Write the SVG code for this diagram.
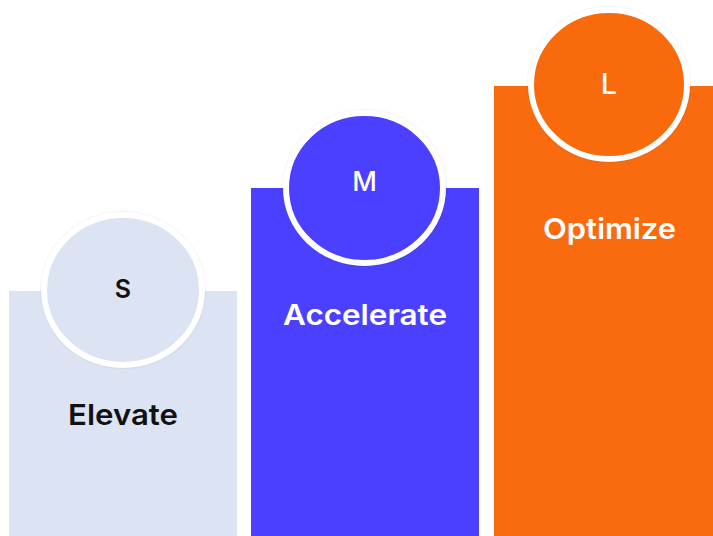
<svg xmlns="http://www.w3.org/2000/svg" width="713" height="536" viewBox="0 0 713 536">
  <defs>
    <filter id="soft" x="-10%" y="-10%" width="120%" height="120%">
      <feDropShadow dx="0" dy="0" stdDeviation="1" flood-color="#000" flood-opacity="0.12"/>
    </filter>
  </defs>
  <style>
    .badge { stroke: #ffffff; stroke-width: 6; filter: url(#soft); }
    .letter { font-family: Inter, "Noto Sans", "Liberation Sans", sans-serif; font-weight: 500; text-anchor: middle; }
    .letter.dark { font-weight: 600; fill: #111111; }
    .label { font-family: Inter, "Noto Sans", "Liberation Sans", sans-serif; font-weight: 600; font-size: 29px; text-anchor: middle; }
    .small { fill: #dce4f3; }
    .medium { fill: #4b40ff; }
    .large { fill: #f96b0e; }
  </style>
  <rect width="713" height="536" fill="#ffffff"/>

  <!-- S tier -->
  <g id="tier-s">
    <rect class="small" x="9" y="291" width="228" height="245"/>
    <ellipse class="badge small" cx="123" cy="290" rx="79" ry="75"/>
    <text class="letter dark" x="123" y="298" font-size="25">S</text>
    <text class="label" x="123" y="425" fill="#111111" textLength="110" lengthAdjust="spacingAndGlyphs">Elevate</text>
  </g>

  <!-- M tier -->
  <g id="tier-m">
    <rect class="medium" x="251" y="188" width="228" height="348"/>
    <ellipse class="badge medium" cx="364.5" cy="188" rx="78.5" ry="75"/>
    <text class="letter" x="364.5" y="191" font-size="27" fill="#ffffff">M</text>
    <text class="label" x="365" y="325" fill="#ffffff" textLength="164" lengthAdjust="spacingAndGlyphs">Accelerate</text>
  </g>

  <!-- L tier -->
  <g id="tier-l">
    <rect class="large" x="494" y="86" width="219" height="450"/>
    <ellipse class="badge large" cx="609" cy="84.5" rx="78" ry="74.5"/>
    <text class="letter" x="609" y="94" font-size="29" fill="#ffffff">L</text>
    <text class="label" x="609.5" y="239" fill="#ffffff" textLength="133" lengthAdjust="spacingAndGlyphs">Optimize</text>
  </g>

  <g id="connectors"/>
</svg>
